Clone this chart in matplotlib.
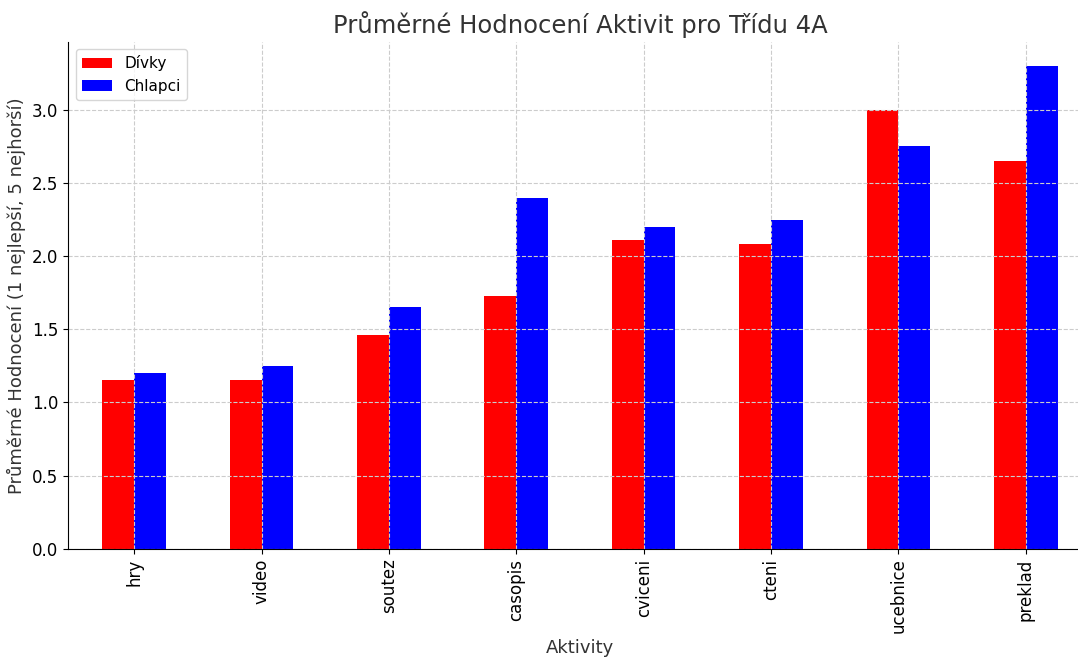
import numpy as np
import matplotlib
matplotlib.use("Agg")
from matplotlib import pyplot as plt

aktivity = ["hry", "video", "soutez", "casopis", "cviceni", "cteni", "ucebnice", "preklad"]
divky = [1.15, 1.15, 1.46, 1.73, 2.11, 2.08, 3.00, 2.65]
chlapci = [1.20, 1.25, 1.65, 2.40, 2.20, 2.25, 2.75, 3.30]

x = np.arange(len(aktivity))
w = 0.25

fig = plt.figure(figsize=(10.78, 6.62), dpi=100)
ax = fig.add_axes([0.063, 0.171, 0.95, 0.766])

ax.bar(x - w/2, divky, w, color="red", label="Dívky")
ax.bar(x + w/2, chlapci, w, color="blue", label="Chlapci")

ax.set_xticks(x)
ax.set_xticklabels(aktivity, rotation=90, fontsize=12)
ax.tick_params(axis="y", labelsize=12)
ax.set_xlim(-0.52, 7.52)
ax.set_ylim(0, 3.465)

ax.set_title("Průměrné Hodnocení Aktivit pro Třídu 4A", fontsize=17.5, color="#333333")
ax.set_xlabel("Aktivity", fontsize=13, color="#333333")
ax.set_ylabel("Průměrné Hodnocení (1 nejlepší, 5 nejhorší)", fontsize=13, color="#333333")

ax.grid(True, linestyle="--", color="#cccccc", linewidth=0.8)
ax.spines["top"].set_visible(False)
ax.spines["right"].set_visible(False)
ax.legend(loc="upper left", fontsize=11)

fig.savefig("out.png", dpi=100)
